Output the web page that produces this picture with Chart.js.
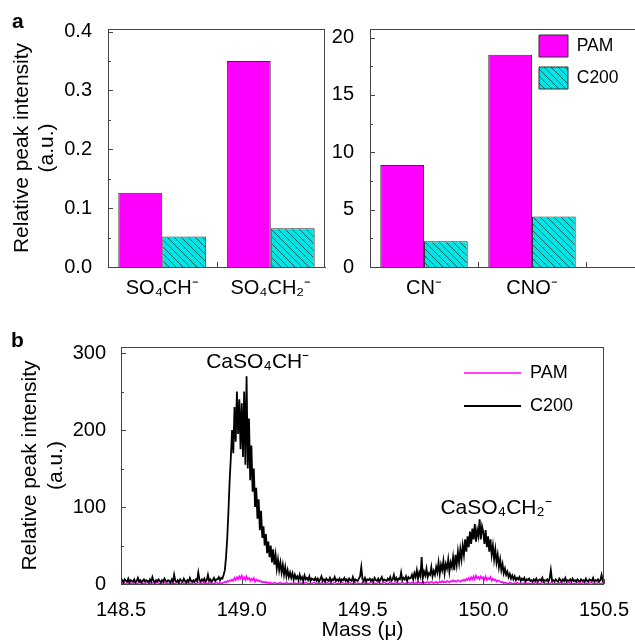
<!DOCTYPE html>
<html>
<head>
<meta charset="utf-8">
<script src="https://cdn.jsdelivr.net/npm/chart.js@4.4.1/dist/chart.umd.min.js"></script>
<style>
  body { margin: 0; background: #fff; }
  #fig { position: relative; width: 635px; height: 644px; overflow: hidden; }
  #fig canvas { position: absolute; }
  .lab { position: absolute; font: bold 21px 'Liberation Sans', Arial, sans-serif; line-height: 21px; z-index: 2; }
</style>
</head>
<body>
<div id="fig">
  <canvas id="a1" width="330" height="300" style="left:0;top:0"></canvas>
  <canvas id="a2" width="305" height="300" style="left:330px;top:0"></canvas>
  <canvas id="b" width="635" height="344" style="left:0;top:300px"></canvas>
  <div class="lab" style="left:12px;top:10px">a</div>
  <div class="lab" style="left:11px;top:329px">b</div>
</div>
<script>
// --- données du panneau a ---
const ionsLeft = ['SO₄CH⁻', 'SO₄CH₂⁻'];
const pamLeft = [0.126, 0.350];
const c200Left = [0.052, 0.066];
const ionsRight = ['CN⁻', 'CNO⁻'];
const pamRight = [8.9, 18.5];
const c200Right = [2.25, 4.4];

const leftMajor = [0, 0.1, 0.2, 0.3, 0.4];
const leftMinor = [0.05, 0.15, 0.25, 0.35];
const rightMajor = [0, 5, 10, 15, 20];
const rightMinor = [2.5, 7.5, 12.5, 17.5];

// --- données du panneau b (spectre, pas de 0.005 u à partir de 148.5) ---
const massStart = 148.5;
const massStep = 0.005;
const c200Spectrum = [
  3,5,2,6,4,3,7,2,5,4,3,6,2,4,8,3,5,2,4,6,
  3,5,4,2,6,3,9,4,2,5,3,6,4,2,5,3,7,4,3,5,
  4,2,6,3,12,4,3,5,2,6,4,3,7,4,2,5,3,8,4,3,
  5,3,6,4,15,5,3,6,4,7,3,5,12,4,6,3,5,8,4,6,
  6,9,5,8,7,12,18,35,60,95,135,165,200,170,230,185,250,195,240,175,
  235,165,250,155,270,150,215,135,180,120,150,100,125,85,110,70,95,60,75,50,
  65,40,55,35,50,28,45,25,38,20,32,18,28,15,25,12,22,10,18,9,
  15,8,14,6,12,7,10,5,12,6,9,4,11,6,8,5,10,4,7,6,
  5,8,4,7,3,6,10,4,6,3,7,5,4,8,3,6,5,9,4,6,
  4,7,3,6,5,8,4,6,3,7,5,4,9,3,6,5,4,7,10,22,
  6,4,8,3,6,5,7,4,6,3,8,5,4,7,3,6,9,4,6,5,
  4,7,5,9,4,6,12,5,8,4,7,6,15,5,8,6,10,4,9,7,
  8,12,6,14,9,18,7,15,10,35,8,16,11,20,9,14,12,22,10,17,
  12,22,15,28,13,25,18,30,14,26,20,32,16,28,22,35,18,38,25,42,
  28,45,32,50,38,58,42,62,48,68,52,72,58,78,55,70,62,84,58,75,
  68,52,70,48,62,42,58,38,50,32,45,28,38,22,32,18,26,14,20,12,
  16,9,13,7,11,6,10,5,8,6,9,4,7,5,8,3,6,5,7,4,
  5,3,6,4,7,3,5,6,4,8,3,5,4,6,3,7,18,4,5,3,
  6,4,3,7,5,3,6,4,8,3,5,4,6,3,7,4,5,3,6,4,
  3,6,4,5,3,7,4,3,6,5,4,8,3,5,4,6,3,5,12,4,
  5
];
const pamSpectrum = [
  1,0,2,1,0,1,2,0,1,1,0,2,1,0,1,2,1,0,1,1,
  0,1,2,1,0,1,1,2,0,1,2,1,0,1,1,0,2,1,0,1,
  1,2,0,1,1,0,2,1,1,0,1,2,0,1,1,2,0,1,1,0,
  2,1,0,1,2,1,0,1,1,2,0,1,1,0,2,1,1,0,1,2,
  1,0,2,1,1,2,3,2,4,3,5,4,6,4,8,5,9,6,10,7,
  11,6,9,5,10,6,8,4,7,5,8,3,6,4,5,3,4,2,3,2,
  3,1,2,1,2,0,1,2,1,0,1,1,2,0,1,1,0,2,1,0,
  1,1,0,2,1,0,1,1,2,0,1,0,1,2,1,0,1,1,0,1,
  2,1,0,1,1,0,2,1,0,1,1,2,0,1,1,0,1,2,1,0,
  1,0,1,2,1,0,1,1,0,2,1,0,1,1,2,0,1,1,0,1,
  1,2,0,1,1,0,1,2,1,0,1,1,0,2,1,1,0,1,2,1,
  0,1,1,2,0,1,1,0,2,1,1,0,1,2,1,0,1,1,2,1,
  1,2,1,0,2,1,3,1,2,1,3,2,1,2,3,1,2,3,2,1,
  2,3,1,2,3,2,4,2,3,2,4,3,2,4,3,5,3,4,3,5,
  4,3,5,4,6,4,7,5,8,5,9,6,10,6,11,7,9,6,10,7,
  9,6,10,5,8,6,9,4,7,5,6,3,5,4,3,2,3,1,2,1,
  1,0,2,1,0,1,1,0,2,1,0,1,1,0,1,2,0,1,1,0,
  1,1,0,2,1,0,1,1,0,1,2,1,0,1,1,0,1,2,0,1,
  1,0,1,1,2,0,1,1,0,1,1,2,0,1,0,1,1,0,2,1,
  0,1,1,2,0,1,1,0,1,2,1,0,1,1,0,2,1,0,1,1,
  1
];
const massMajor = [148.5, 149.0, 149.5, 150.0, 150.5];
const massMinor = [148.75, 149.25, 149.75, 150.25];
const specMajor = [0, 100, 200, 300];
const specMinor = [50, 150, 250];
const noteTexts = ['CaSO₄CH⁻', 'CaSO₄CH₂⁻'];
const noteMass = [149.066, 150.053];
const noteValue = [288, 99];

const FONT = "'Liberation Sans', Arial, sans-serif";
const axisColor = '#444';
const magenta = '#FF00FF';

Chart.defaults.font.family = FONT;
Chart.defaults.font.size = 20;
Chart.defaults.color = '#000';
Chart.defaults.animation = false;

// motif hachuré cyan pour C200
function makeHatch() {
  const s = 7;
  const c = document.createElement('canvas');
  c.width = s; c.height = s;
  const g = c.getContext('2d');
  g.fillStyle = '#00E5E5';
  g.fillRect(0, 0, s, s);
  g.strokeStyle = '#1b3b3b';
  g.lineWidth = 0.8;
  g.beginPath();
  g.moveTo(0, 0); g.lineTo(s, s);
  g.moveTo(-1, s - 1); g.lineTo(1, s + 1);
  g.moveTo(s - 1, -1); g.lineTo(s + 1, 1);
  g.stroke();
  return g.createPattern(c, 'repeat');
}
const hatch = makeHatch();

// cadre du haut / de droite
const frame = {
  id: 'frame',
  afterDatasetsDraw(chart, args, opts) {
    const a = chart.chartArea, ctx = chart.ctx;
    ctx.save();
    ctx.strokeStyle = axisColor;
    ctx.lineWidth = 1;
    ctx.beginPath();
    ctx.moveTo(a.left, Math.round(a.top) + 0.5);
    ctx.lineTo(a.right, Math.round(a.top) + 0.5);
    if (opts.right) {
      ctx.moveTo(Math.round(a.right) - 0.5, a.top);
      ctx.lineTo(Math.round(a.right) - 0.5, a.bottom);
    }
    ctx.stroke();
    ctx.restore();
  }
};

// graduations tournées vers l'intérieur
const innerTicks = {
  id: 'innerTicks',
  afterDatasetsDraw(chart, args, opts) {
    const {ctx, chartArea: a} = chart;
    const xs = chart.scales.x, ys = chart.scales.y;
    ctx.save();
    ctx.strokeStyle = axisColor;
    ctx.lineWidth = 1;
    ctx.beginPath();
    const xt = (vals, len) => (vals || []).forEach(v => {
      const p = Math.round(xs.getPixelForValue(v)) + 0.5;
      ctx.moveTo(p, a.bottom); ctx.lineTo(p, a.bottom - len);
    });
    const yt = (vals, len) => (vals || []).forEach(v => {
      const p = Math.round(ys.getPixelForValue(v)) + 0.5;
      ctx.moveTo(a.left, p); ctx.lineTo(a.left + len, p);
    });
    xt(opts.xMajor, 5); xt(opts.xMinor, 3);
    yt(opts.yMajor, 5); yt(opts.yMinor, 3);
    ctx.stroke();
    ctx.restore();
  }
};

// placer la légende dans la zone du graphique
const placeLegend = {
  id: 'placeLegend',
  afterLayout(chart, args, opts) {
    const lg = chart.legend;
    if (!lg || opts.left == null) return;
    const w = lg.width, h = lg.height;
    lg.left = opts.left; lg.right = opts.left + w;
    lg.top = opts.top; lg.bottom = opts.top + h;
  }
};

// étiquettes des pics
const peakNotes = {
  id: 'peakNotes',
  afterDatasetsDraw(chart) {
    const {ctx, scales: {x, y}} = chart;
    ctx.save();
    ctx.font = '21px ' + FONT;
    ctx.fillStyle = '#000';
    ctx.textAlign = 'center';
    ctx.textBaseline = 'middle';
    noteTexts.forEach((t, i) => {
      ctx.fillText(t, x.getPixelForValue(noteMass[i]), y.getPixelForValue(noteValue[i]));
    });
    ctx.restore();
  }
};

const border = { display: true, color: axisColor, width: 1 };
const fixTicks = vals => s => { s.ticks = vals.map(v => ({ value: v })); };

// --- panneau a, gauche ---
new Chart(document.getElementById('a1'), {
  type: 'bar',
  data: {
    labels: ionsLeft,
    datasets: [
      { label: 'PAM', data: pamLeft, backgroundColor: magenta, borderColor: '#333', borderWidth: 1 },
      { label: 'C200', data: c200Left, backgroundColor: hatch, borderColor: '#333', borderWidth: 1 }
    ]
  },
  options: {
    responsive: false,
    devicePixelRatio: 1,
    barPercentage: 1,
    categoryPercentage: 0.81,
    layout: { padding: { top: 29, right: 5, left: 0, bottom: 0 } },
    scales: {
      x: {
        offset: true,
        grid: { display: false },
        border: border,
        ticks: { padding: 1, maxRotation: 0 },
        afterFit: s => { s.height = 33; }
      },
      y: {
        min: 0, max: 0.4045,
        grid: { display: false },
        border: border,
        afterBuildTicks: fixTicks(leftMajor),
        ticks: { padding: 8, callback: v => v.toFixed(1) },
        title: {
          display: true,
          text: ['Relative peak intensity', '(a.u.)'],
          font: { size: 21, lineHeight: 1.2 },
          padding: { top: 9.4, bottom: 0 }
        },
        afterFit: s => { s.width = 108; }
      }
    },
    plugins: {
      legend: { display: false },
      tooltip: { enabled: false },
      frame: { right: true },
      innerTicks: { xMajor: [0.5], yMajor: leftMajor, yMinor: leftMinor }
    }
  },
  plugins: [frame, innerTicks]
});

// --- panneau a, droite ---
new Chart(document.getElementById('a2'), {
  type: 'bar',
  data: {
    datasets: [
      { label: 'PAM', data: pamRight.map((v, i) => ({ x: i + 1, y: v })), backgroundColor: magenta, borderColor: '#333', borderWidth: 1 },
      { label: 'C200', data: c200Right.map((v, i) => ({ x: i + 1, y: v })), backgroundColor: hatch, borderColor: '#333', borderWidth: 1 }
    ]
  },
  options: {
    responsive: false,
    devicePixelRatio: 1,
    barPercentage: 1,
    categoryPercentage: 0.81,
    layout: { padding: { top: 29, right: 0, left: 0, bottom: 0 } },
    scales: {
      x: {
        type: 'linear',
        offset: false,
        min: 0.5, max: 2.954,
        grid: { display: false, offset: false },
        border: border,
        afterBuildTicks: s => { s.ticks = ionsRight.map((_, i) => ({ value: i + 1 })); },
        ticks: { padding: 1, maxRotation: 0, callback: v => ionsRight[Math.round(v) - 1] || '' },
        afterFit: s => { s.height = 33; }
      },
      y: {
        min: 0, max: 20.75,
        grid: { display: false },
        border: border,
        afterBuildTicks: fixTicks(rightMajor),
        ticks: { padding: 8 },
        afterFit: s => { s.width = 40; }
      }
    },
    plugins: {
      legend: {
        display: true,
        position: 'chartArea',
        align: 'start',
        labels: { boxWidth: 29, boxHeight: 22, padding: 10, font: { size: 17.5 } }
      },
      tooltip: { enabled: false },
      placeLegend: { left: 199, top: 25 },
      frame: { right: false },
      innerTicks: { xMajor: [1.5, 2.5], yMajor: rightMajor, yMinor: rightMinor }
    }
  },
  plugins: [frame, innerTicks, placeLegend]
});

// --- panneau b ---
const toPoints = arr => arr.map((v, i) => ({ x: (massStart * 1000 + i * massStep * 1000) / 1000, y: v }));

new Chart(document.getElementById('b'), {
  type: 'line',
  data: {
    datasets: [
      { label: 'C200', data: toPoints(c200Spectrum), borderColor: '#000', backgroundColor: '#000', borderWidth: 1.8, pointRadius: 0, tension: 0 },
      { label: 'PAM', data: toPoints(pamSpectrum), borderColor: magenta, backgroundColor: magenta, borderWidth: 1.5, pointRadius: 0, tension: 0 }
    ]
  },
  options: {
    responsive: false,
    devicePixelRatio: 1,
    layout: { padding: { top: 47, right: 30, left: 0, bottom: 0 } },
    scales: {
      x: {
        type: 'linear',
        min: 148.5, max: 150.5,
        grid: { display: false },
        border: border,
        afterBuildTicks: fixTicks(massMajor),
        ticks: { padding: 6, maxRotation: 0, callback: v => v.toFixed(1) },
        title: { display: true, text: 'Mass (μ)', font: { size: 21 }, padding: { top: 0, bottom: 1.4 } },
        afterFit: s => { s.height = 60; }
      },
      y: {
        min: 0, max: 308,
        grid: { display: false },
        border: border,
        afterBuildTicks: fixTicks(specMajor),
        ticks: { padding: 7 },
        title: {
          display: true,
          text: ['Relative peak intensity', '(a.u.)'],
          font: { size: 21, lineHeight: 1.24 },
          padding: { top: 17, bottom: 0 }
        },
        afterFit: s => { s.width = 121; }
      }
    },
    plugins: {
      legend: {
        display: true,
        position: 'chartArea',
        align: 'start',
        labels: {
          usePointStyle: true,
          pointStyle: 'line',
          pointStyleWidth: 57,
          padding: 15,
          font: { size: 18 },
          sort: (a, b) => b.datasetIndex - a.datasetIndex
        }
      },
      tooltip: { enabled: false },
      placeLegend: { left: 449, top: 49 },
      frame: { right: true },
      innerTicks: { xMajor: massMajor, xMinor: massMinor, yMajor: specMajor, yMinor: specMinor }
    }
  },
  plugins: [frame, innerTicks, placeLegend, peakNotes]
});
</script>
</body>
</html>
